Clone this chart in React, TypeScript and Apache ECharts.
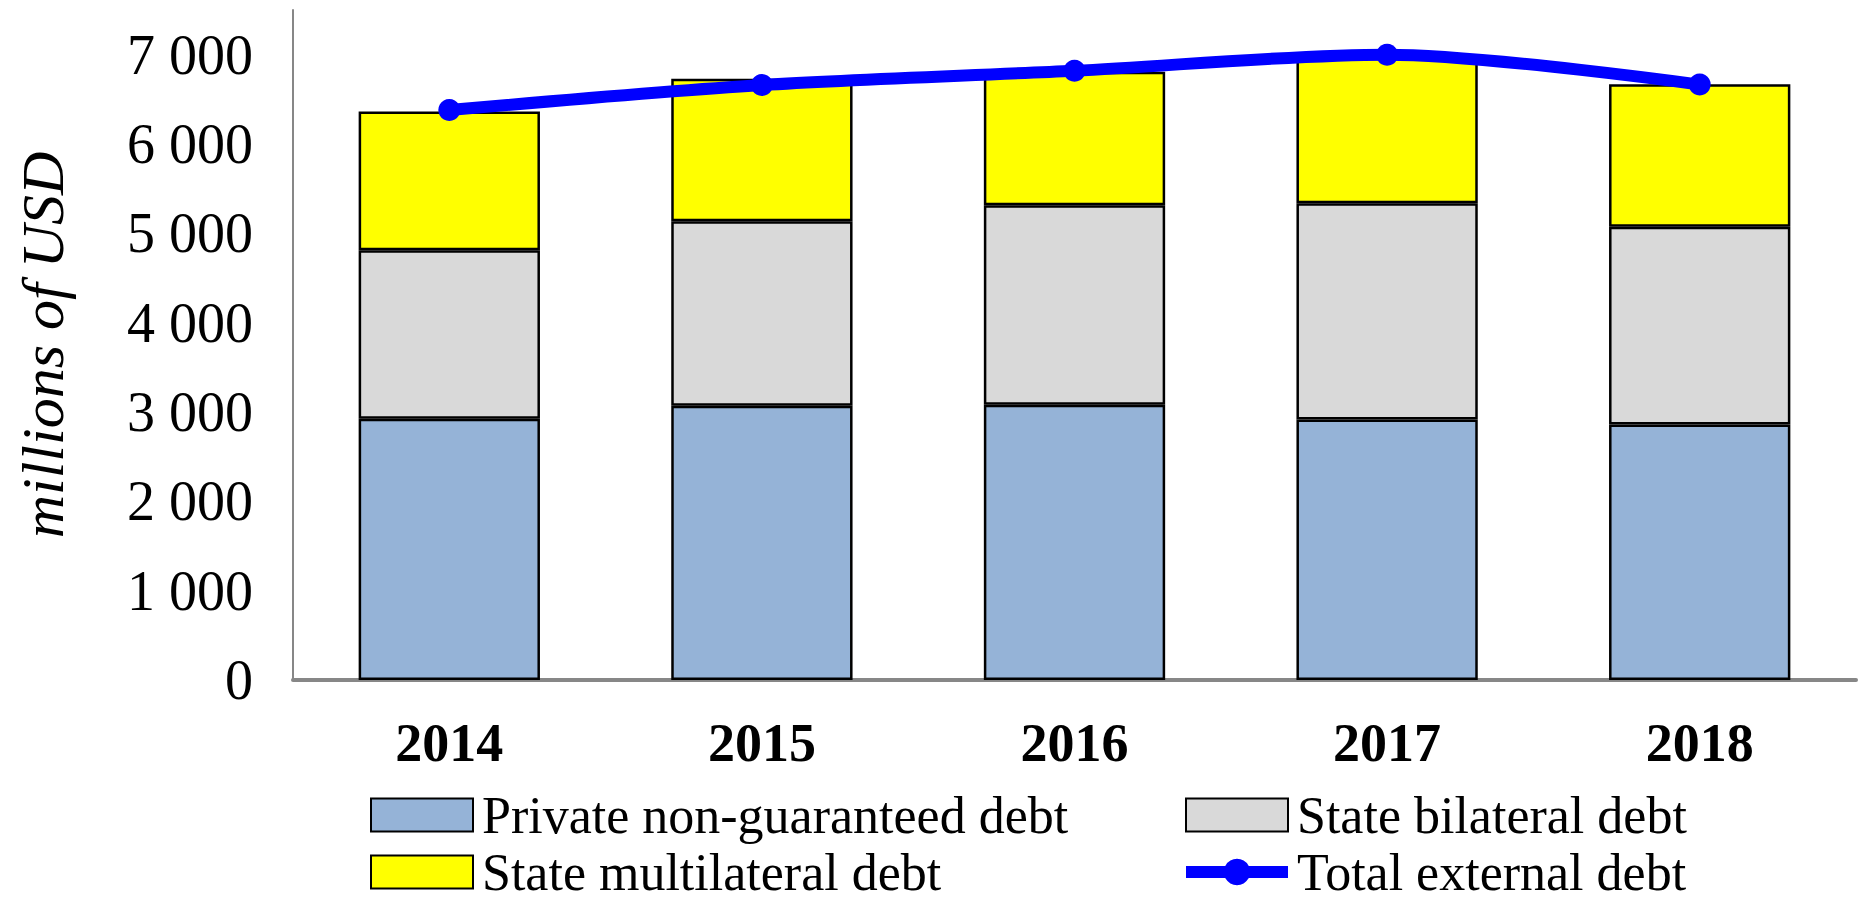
import React, { useEffect, useRef } from "react";
import * as echarts from "echarts";

const years = ["2014", "2015", "2016", "2017", "2018"];
const privateDebt = [2925, 3070, 3080, 2915, 2860];
const bilateralDebt = [1885, 2066, 2234, 2421, 2215];
const multilateralDebt = [1554, 1594, 1496, 1644, 1595];
const totalDebt = [6380, 6660, 6820, 7000, 6665];

const FONT = "'Liberation Serif', 'Times New Roman', serif";

const fmt = (v: number) => {
  const s = String(Math.round(v));
  return s.replace(/\B(?=(\d{3})+(?!\d))/g, " ");
};

export default function App() {
  const ref = useRef<HTMLDivElement>(null);
  useEffect(() => {
    if (!ref.current) return;
    const chart = echarts.init(ref.current, undefined, { renderer: "svg" });
    const legendBase = {
      itemWidth: 102,
      itemHeight: 33,
      padding: 0,
      textStyle: {
        fontFamily: FONT,
        fontSize: 52,
        lineHeight: 52,
        color: "#000",
        padding: [0, 0, 0, 4],
      },
    };
    chart.setOption({
      animation: false,
      backgroundColor: "#fff",
      grid: { left: 293, right: 6, top: 10, bottom: 219 },
      xAxis: {
        type: "category",
        data: years,
        axisLine: { lineStyle: { color: "#878787", width: 4 } },
        axisTick: { show: false },
        axisLabel: {
          fontFamily: FONT,
          fontSize: 54,
          fontWeight: "bold",
          color: "#000",
          margin: 36,
        },
      },
      yAxis: {
        type: "value",
        min: 0,
        max: 7500,
        interval: 1000,
        name: "millions of USD",
        nameLocation: "middle",
        nameRotate: 90,
        nameGap: 220,
        nameTextStyle: { fontFamily: FONT, fontSize: 60, fontStyle: "italic", color: "#000" },
        axisLine: { show: true, lineStyle: { color: "#878787", width: 2 } },
        axisTick: { show: false },
        splitLine: { show: false },
        axisLabel: {
          fontFamily: FONT,
          fontSize: 56,
          color: "#000",
          margin: 40,
          showMaxLabel: false,
          formatter: (v: number) => (v > 7000 ? "" : fmt(v)),
        },
      },
      legend: [
        { ...legendBase, icon: "rect", data: ["Private non-guaranteed debt"], left: 370, top: 789 },
        { ...legendBase, icon: "rect", data: ["State bilateral debt"], left: 1185, top: 789 },
        { ...legendBase, icon: "rect", data: ["State multilateral debt"], left: 370, top: 846 },
        {
          ...legendBase,
          data: ["Total external debt"],
          left: 1180,
          top: 846,
          lineStyle: { width: 12 },
        },
      ],
      series: [
        {
          name: "Private non-guaranteed debt",
          type: "bar",
          stack: "debt",
          data: privateDebt,
          barWidth: "58%",
          itemStyle: { color: "#95B3D7", borderColor: "#000", borderWidth: 2.5 },
        },
        {
          name: "State bilateral debt",
          type: "bar",
          stack: "debt",
          data: bilateralDebt,
          barWidth: "58%",
          itemStyle: { color: "#D9D9D9", borderColor: "#000", borderWidth: 2.5 },
        },
        {
          name: "State multilateral debt",
          type: "bar",
          stack: "debt",
          data: multilateralDebt,
          barWidth: "58%",
          itemStyle: { color: "#FFFF00", borderColor: "#000", borderWidth: 2.5 },
        },
        {
          name: "Total external debt",
          type: "line",
          data: totalDebt,
          smooth: 0.3,
          symbol: "circle",
          symbolSize: 22,
          lineStyle: { color: "#0000FF", width: 12 },
          itemStyle: { color: "#0000FF" },
          z: 5,
        },
      ],
    });
    return () => chart.dispose();
  }, []);
  return (
    <div
      ref={ref}
      style={{ position: "absolute", left: 0, top: 0, width: 1862, height: 899 }}
    />
  );
}
